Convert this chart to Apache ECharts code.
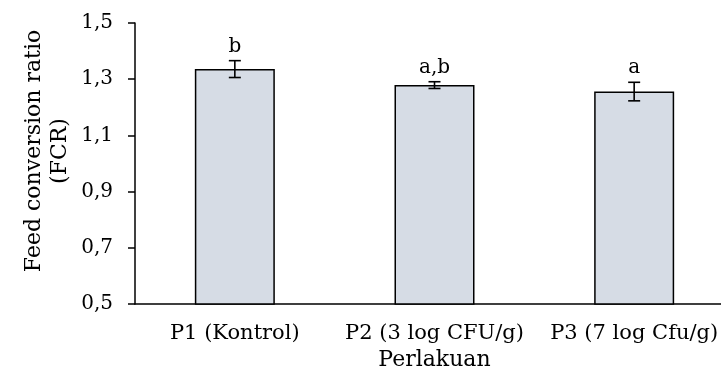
<!DOCTYPE html>
<html>
<head>
<meta charset="utf-8">
<script src="https://cdn.jsdelivr.net/npm/echarts@6/dist/echarts.min.js"></script>
<style>
  html, body { margin: 0; padding: 0; background: #fff; }
  #chart { width: 721px; height: 373px; }
</style>
</head>
<body>
<div id="chart"></div>
<script>
var categories = ['P1 (Kontrol)', 'P2 (3 log CFU/g)', 'P3 (7 log Cfu/g)'];
var fcr = [1.336, 1.279, 1.256];
var fcrErr = [0.03, 0.012, 0.033];
var letters = ['b', 'a,b', 'a'];
var yTicks = ['0,5', '0,7', '0,9', '1,1', '1,3', '1,5'];

var FONT = 'DejaVu Serif';

var errData = [];
for (var i = 0; i < fcr.length; i++) {
    errData.push([i, fcr[i], fcrErr[i]]);
}

var chart = echarts.init(document.getElementById('chart'));
var option = {
    animation: false,
    grid: {
        left: 135,
        right: -13,
        top: 23,
        bottom: 69,
        containLabel: false,
        outerBoundsMode: 'none'
    },
    // y title drawn separately, it sits a bit above the axis middle
    graphic: [{
        type: 'text',
        x: 47,
        y: 151,
        rotation: Math.PI / 2,
        style: {
            text: 'Feed conversion ratio\n(FCR)',
            font: '22px "' + FONT + '"',
            fill: '#000',
            align: 'center',
            verticalAlign: 'middle',
            lineHeight: 26
        }
    }],
    xAxis: {
        type: 'category',
        data: categories,
        name: 'Perlakuan',
        nameLocation: 'middle',
        nameGap: 45,
        nameTextStyle: { fontFamily: FONT, fontSize: 22, color: '#000' },
        axisLine: { lineStyle: { color: '#000', width: 1.5 } },
        axisTick: { show: false },
        axisLabel: { fontFamily: FONT, fontSize: 21, color: '#000', margin: 19, interval: 0, hideOverlap: false }
    },
    yAxis: {
        type: 'value',
        min: 0.5,
        max: 1.5,
        interval: 0.2,
        splitLine: { show: false },
        axisLine: { show: true, lineStyle: { color: '#000', width: 1.5 } },
        axisTick: { show: true, inside: false, length: 7, lineStyle: { color: '#000', width: 1.5 } },
        axisLabel: {
            fontFamily: FONT, fontSize: 20, color: '#000', margin: 22,
            formatter: function (v) {
                var idx = Math.round((v - 0.5) / 0.2);
                return yTicks[idx];
            }
        }
    },
    series: [
        {
            type: 'bar',
            data: fcr,
            barWidth: 80,
            itemStyle: { color: '#d6dce5', borderColor: '#000', borderWidth: 1.5 }
        },
        {
            type: 'custom',
            data: errData,
            z: 10,
            renderItem: function (params, api) {
                var x = api.value(0);
                var v = api.value(1);
                var e = api.value(2);
                var hi = api.coord([x, v + e]);
                var lo = api.coord([x, v - e]);
                var cap = 6;
                var st = { stroke: '#000', lineWidth: 1.6 };
                return {
                    type: 'group',
                    children: [
                        { type: 'line', shape: { x1: hi[0], y1: hi[1], x2: lo[0], y2: lo[1] }, style: st },
                        { type: 'line', shape: { x1: hi[0] - cap, y1: hi[1], x2: hi[0] + cap, y2: hi[1] }, style: st },
                        { type: 'line', shape: { x1: lo[0] - cap, y1: lo[1], x2: lo[0] + cap, y2: lo[1] }, style: st },
                        {
                            type: 'text',
                            style: {
                                x: hi[0], y: hi[1] - 4,
                                text: letters[params.dataIndex],
                                fill: '#000',
                                font: '20px "' + FONT + '"',
                                align: 'center',
                                verticalAlign: 'bottom'
                            }
                        }
                    ]
                };
            }
        }
    ]
};
chart.setOption(option);
</script>
</body>
</html>
